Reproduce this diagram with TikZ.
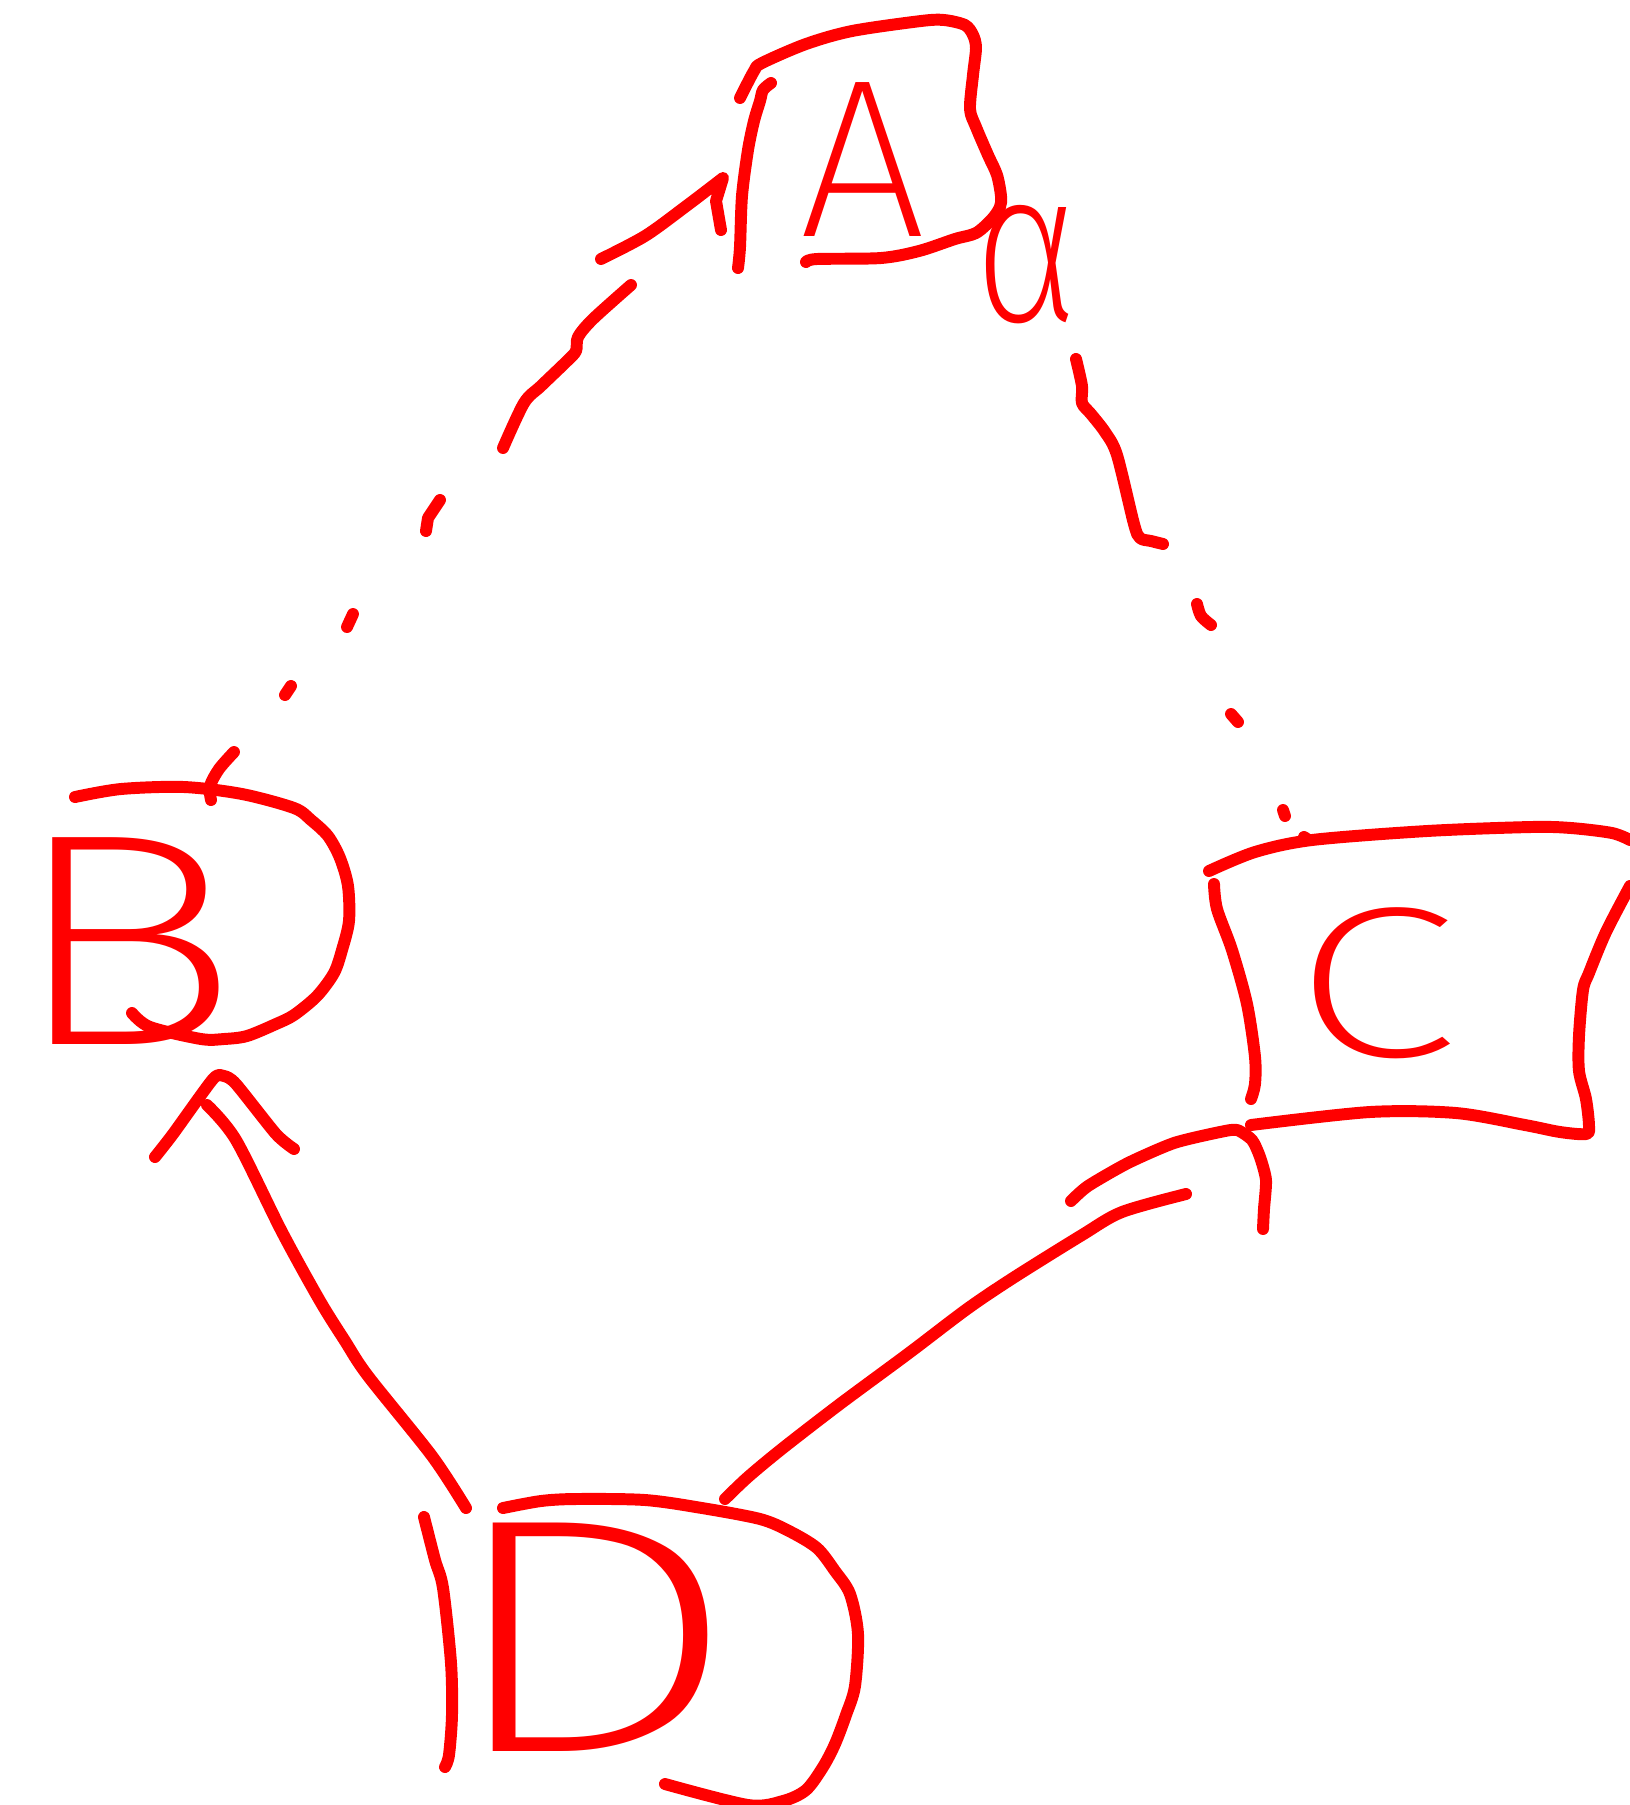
\documentclass[tikz,border=0pt]{standalone}
\usepackage{fontspec}
\IfFontExistsTF{Fira Sans ExtraLight}{\setmainfont{Fira Sans ExtraLight}}{%
  \IfFontExistsTF{Fira Sans Light}{\setmainfont{Fira Sans Light}}{%
    \IfFontExistsTF{Lato Light}{\setmainfont{Lato Light}}{\setmainfont{Liberation Sans}}}}
\begin{document}
\begin{tikzpicture}[x=0.01cm,y=-0.01cm,
  ink/.style={draw=red, line width=3.4pt, line cap=round, line join=round},
  lbl/.style={text=red, inner sep=0pt},
]
\useasboundingbox (0,0) rectangle (1630,1805);
% letters
\node[lbl, font=\fontsize{64pt}{64pt}\selectfont] (A) at (863,160) {A};
\node[lbl, font=\fontsize{86pt}{86pt}\selectfont] (B) at (124,941) {\scalebox{1.3}[1]{B}};
\node[lbl, font=\fontsize{61pt}{61pt}\selectfont] (C) at (1376,983) {\scalebox{1.4}[1]{C}};
\node[lbl, font=\fontsize{95pt}{95pt}\selectfont] (D) at (590,1637) {\scalebox{1.45}[1]{D}};
\node[lbl, font=\fontsize{46pt}{46pt}\selectfont] (al) at (1027,265) {\scalebox{1.1}[1.35]{α}};
% box A
\draw[ink] plot[smooth] coordinates {(738,268) (740,247) (742,196) (748,150) (754,121) (760,101) (763,90) (771,83)};
\draw[ink] plot[smooth] coordinates {(740,98) (754,71) (762,63) (806,44) (852,31) (921,21) (944,20) (965,25) (973,35) (976,48) (973,75) (970,109) (976,127) (988,155) (997,175) (1001,196) (1000,207) (992,219) (976,233) (955,239) (919,251) (881,258) (817,259) (806,262)};
% box B
\draw[ink] plot[smooth] coordinates {(75,797) (121,789) (184,787) (242,794) (294,808) (311,820) (328,836) (340,858) (348,886) (349,921) (342,950) (334,973) (317,996) (294,1015) (276,1024) (247,1036) (224,1039) (201,1039) (150,1027) (132,1013)};
% box C
\draw[ink] plot[smooth] coordinates {(1209,871) (1255,852) (1312,840) (1427,831) (1531,827) (1571,828) (1612,833) (1630,840)};
\draw[ink] plot[smooth] coordinates {(1214,884) (1217,909) (1232,950) (1247,1004) (1255,1057) (1255,1084) (1251,1099)};
\draw[ink] plot[smooth] coordinates {(1251,1125) (1370,1112) (1456,1113) (1525,1125) (1560,1132) (1586,1134) (1589,1126) (1586,1099) (1579,1071) (1579,1036) (1583,990) (1589,973) (1606,932) (1630,886)};
% box D
\draw[ink] plot[smooth] coordinates {(424,1517) (435,1560) (443,1588) (451,1663) (452,1715) (449,1755) (445,1767)};
\draw[ink] plot[smooth] coordinates {(503,1508) (541,1501) (576,1499) (645,1500) (702,1508) (760,1519) (789,1531) (817,1548) (835,1571) (850,1594) (858,1634) (855,1686) (846,1715) (835,1744) (823,1767) (806,1790) (783,1801) (748,1805) (665,1784)};
% connector end points
\coordinate (B-top) at (211,800);
\coordinate (A-low) at (631,285);
\coordinate (A-tip) at (723,178);
\coordinate (A-side) at (1076,359);
\coordinate (C-top) at (1307,839);
\coordinate (D-left) at (466,1508);
\coordinate (B-bot) at (207,1105);
\coordinate (B-tip) at (224,1076);
\coordinate (D-right) at (725,1499);
\coordinate (C-bot) at (1186,1194);
\coordinate (C-tip) at (1237,1130);
% dashed B -> A (hand-drawn dashes)
\draw[ink] plot[smooth] coordinates {(B-top) (210,786) (219,769) (234,752)}
  (285,695) -- (291,686)
  (347,627) -- (353,614)
  (426,531) -- (428,518) -- (440,500)
  plot[smooth] coordinates {(503,448) (524,403) (541,386) (566,362) (576,351) (578,337) (593,319) (A-low)};
\draw[ink] plot[smooth] coordinates {(601,259) (645,236) (685,207) (A-tip)} -- (716,201) -- (721,230);
% dashed A - C (hand-drawn dashes)
\draw[ink] plot[smooth] coordinates {(A-side) (1082,386) (1082,403) (1091,414) (1105,432) (1117,455) (1134,524) (1140,538) (1151,541) (1163,544)}
  plot[smooth] coordinates {(1197,604) (1201,616) (1211,625)}
  (1231,714) -- (1238,722)
  (1283,810) -- (1285,816)
  (1304,837) -- (C-top);
% D -> B
\draw[ink] plot[smooth] coordinates {(D-left) (432,1456) (368,1376) (345,1341) (320,1301) (282,1232) (236,1140) (B-bot)};
\draw[ink] plot[smooth, tension=0.4] coordinates {(155,1157) (173,1134) (213,1079) (B-tip) (236,1084) (276,1134) (294,1149)};
% D -> C
\draw[ink] plot[smooth] coordinates {(D-right) (748,1477) (783,1448) (840,1404) (909,1353) (967,1309) (1013,1278) (1082,1235) (1122,1212) (C-bot)};
\draw[ink] plot[smooth, tension=0.4] coordinates {(1071,1201) (1088,1186) (1128,1163) (1174,1143) (1220,1132) (C-tip) (1252,1140) (1260,1157) (1266,1180) (1264,1209) (1263,1229)};
\end{tikzpicture}
\end{document}
